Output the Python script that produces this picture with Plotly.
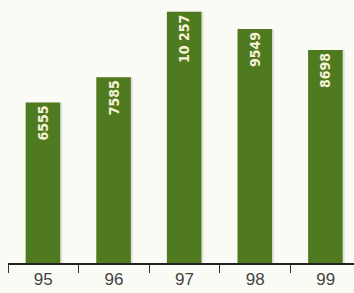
import plotly.graph_objects as go

years = ["95", "96", "97", "98", "99"]
values = [6555, 7585, 10257, 9549, 8698]
labels = ["6555", "7585", "10 257", "9549", "8698"]

bar_color = "#4f7a1f"
bg = "#fbfbf6"

fig = go.Figure()
# soft shadow
fig.add_trace(go.Bar(
    x=years, y=values, width=0.49, offset=-0.22,
    marker=dict(color="#e4e4de", line=dict(width=0)),
    hoverinfo="skip", showlegend=False,
))
fig.add_trace(go.Bar(
    x=years, y=values, width=0.49, offset=-0.25,
    marker=dict(color=bar_color, line=dict(width=0)),
    text=labels, textposition="inside", insidetextanchor="end",
    textangle=-90,
    textfont=dict(family="DejaVu Sans Condensed, DejaVu Sans", size=14, color="#f6f1d8", weight="bold"),
    showlegend=False,
))

fig.update_layout(
    width=354, height=293,
    margin=dict(l=8, r=0, t=0, b=30),
    paper_bgcolor=bg, plot_bgcolor=bg,
    barmode="overlay",
    xaxis=dict(
        range=[-0.5, 4.4], tickson="boundaries", ticks="outside", ticklen=8,
        tickwidth=1.2, tickcolor="#333", showline=True, linecolor="#222", linewidth=1.5,
        showgrid=False, zeroline=False,
        tickfont=dict(family="Liberation Sans, Arial", size=17, color="#444"),
    ),
    yaxis=dict(range=[0, 10735], visible=False, showgrid=False, zeroline=False),
)

fig.write_html(
    "out.html",
    config={"displayModeBar": False},
    post_script="document.body.style.margin='0';document.body.style.overflow='hidden';document.body.style.background='#fbfbf6';",
)
